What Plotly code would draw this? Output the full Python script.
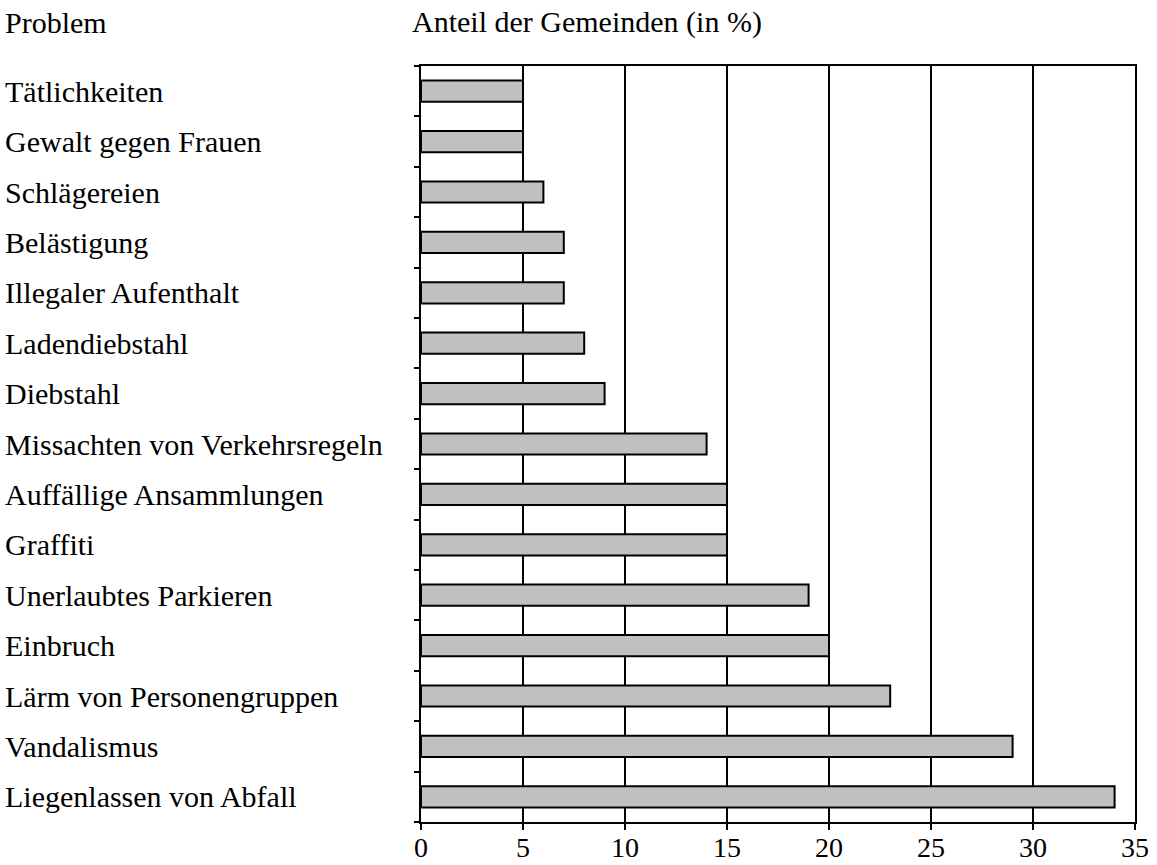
import plotly.graph_objects as go

categories = ["Tätlichkeiten", "Gewalt gegen Frauen", "Schlägereien", "Belästigung",
              "Illegaler Aufenthalt", "Ladendiebstahl", "Diebstahl",
              "Missachten von Verkehrsregeln", "Auffällige Ansammlungen", "Graffiti",
              "Unerlaubtes Parkieren", "Einbruch", "Lärm von Personengruppen",
              "Vandalismus", "Liegenlassen von Abfall"]
values = [5, 5, 6, 7, 7, 8, 9, 14, 15, 15, 19, 20, 23, 29, 34]
x_ticks = [0, 5, 10, 15, 20, 25, 30, 35]

FONT = "Liberation Serif, Times New Roman, serif"
positions = list(range(len(categories)))

W, H = 1157, 865
L, R, T, B = 421, 22, 66, 43
pw = W - L - R
ph = H - T - B

fig = go.Figure()
fig.add_trace(go.Bar(
    x=values, y=positions, orientation="h",
    width=0.42,
    marker=dict(color="#c0c0c0", line=dict(color="black", width=2)),
    hoverinfo="skip",
))

annotations = []
for i, c in enumerate(categories):
    annotations.append(dict(
        x=-(L - 3) / pw, xref="paper", y=i, yref="y", text=c,
        xanchor="left", yanchor="middle", showarrow=False,
        font=dict(family=FONT, size=30, color="black")))
annotations.append(dict(x=-(L - 3) / pw, xref="paper", y=1 + (T - 22) / ph, yref="paper",
                        text="Problem", xanchor="left", yanchor="middle", showarrow=False,
                        font=dict(family=FONT, size=30, color="black")))
annotations.append(dict(x=-(L - 410) / pw, xref="paper", y=1 + (T - 22) / ph, yref="paper",
                        text="Anteil der Gemeinden (in %)", xanchor="left", yanchor="middle",
                        showarrow=False, font=dict(family=FONT, size=30, color="black")))
for v in x_ticks:
    annotations.append(dict(x=v, xref="x", y=-(864 - (H - B)) / ph, yref="paper",
                            text=str(v), xanchor="center", yanchor="bottom",
                            showarrow=False, borderpad=0,
                            font=dict(family=FONT, size=28, color="black")))

fig.update_layout(
    width=W, height=H,
    margin=dict(l=L, r=R, t=T, b=B, autoexpand=False),
    paper_bgcolor="white", plot_bgcolor="white",
    showlegend=False,
    annotations=annotations,
    xaxis=dict(range=[0, 35], tickvals=x_ticks, ticks="outside", ticklen=6,
               tickwidth=2, tickcolor="black", automargin=False,
               showticklabels=False,
               showgrid=True, gridcolor="black", gridwidth=2,
               showline=True, linecolor="black", linewidth=2, mirror=True,
               zeroline=False),
    yaxis=dict(range=[len(categories) - 0.5, -0.5], automargin=False,
               tickvals=[p - 0.5 for p in positions] + [len(categories) - 0.5],
               showticklabels=False, ticks="outside", ticklen=5, tickwidth=2,
               tickcolor="black", showgrid=False, zeroline=False,
               showline=True, linecolor="black", linewidth=2, mirror=True),
)

fig.write_html("out.html", config={"displayModeBar": False},
               post_script="document.body.style.margin='0';")
